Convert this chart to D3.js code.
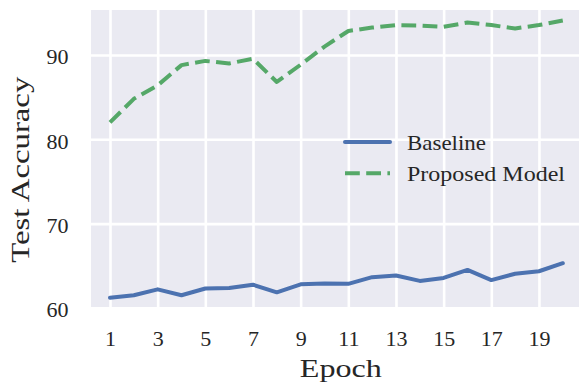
<!DOCTYPE html>
<html>
<head>
<meta charset="utf-8">
<script src="https://cdn.jsdelivr.net/npm/d3@7"></script>
<style>
  html, body { margin: 0; padding: 0; background: #ffffff; }
  svg { display: block; }
  text { font-family: "Liberation Serif", "Times New Roman", serif; fill: #262626; }
</style>
</head>
<body>
<svg id="chart" width="579" height="383"></svg>
<script>
const epochs = [1,2,3,4,5,6,7,8,9,10,11,12,13,14,15,16,17,18,19,20];
const baseline = [61.2,61.5,62.2,61.5,62.3,62.35,62.75,61.85,62.8,62.9,62.85,63.65,63.85,63.2,63.55,64.5,63.3,64.05,64.35,65.3];
const proposed = [82.0,84.8,86.4,88.8,89.3,89.0,89.55,86.8,88.85,91.0,92.85,93.25,93.55,93.5,93.35,93.85,93.55,93.15,93.55,94.1];
const xTicks = [1,3,5,7,9,11,13,15,17,19];
const yTicks = [60,70,80,90];
const seriesNames = ["Baseline", "Proposed Model"];
const seriesColors = ["#4c72b0", "#55a868"];

const svg = d3.select("#chart");
const plotLeft = 91, plotRight = 591, plotTop = 10, plotBottom = 307.9;

const x = d3.scaleLinear().domain([1, 20]).range([110, 562.8]);
const y = d3.scaleLinear().domain([60, 90]).range([plotBottom, 55]);

// background
svg.append("rect")
  .attr("x", plotLeft).attr("y", plotTop)
  .attr("width", plotRight - plotLeft).attr("height", plotBottom - plotTop)
  .attr("fill", "#eaeaf2");

// grid
const gx = svg.append("g").attr("transform", `translate(0,${plotBottom})`)
  .call(d3.axisBottom(x).tickValues(xTicks).tickSize(-(plotBottom - plotTop)).tickFormat(""));
gx.select(".domain").remove();
gx.selectAll("line").attr("stroke", "#ffffff").attr("stroke-width", 2.6);

const gy = svg.append("g").attr("transform", `translate(${plotLeft},0)`)
  .call(d3.axisLeft(y).tickValues(yTicks).tickSize(-(plotRight - plotLeft)).tickFormat(""));
gy.select(".domain").remove();
gy.selectAll("line").attr("stroke", "#ffffff").attr("stroke-width", 2.6);

// tick labels
const lx = svg.append("g").attr("transform", `translate(0,${plotBottom})`)
  .call(d3.axisBottom(x).tickValues(xTicks).tickSize(0).tickFormat(d3.format("d")));
lx.select(".domain").remove();
lx.selectAll("text").attr("y", 38.3).attr("dy", null)
  .style("font-size", "22px").attr("fill", "#262626")
  .style("font-family", "'Liberation Serif', serif");

const ly = svg.append("g").attr("transform", `translate(${plotLeft},0)`)
  .call(d3.axisLeft(y).tickValues(yTicks).tickSize(0).tickFormat(d3.format("d")));
ly.select(".domain").remove();
ly.selectAll("text").attr("x", -22.5).attr("dy", "0.4em")
  .style("font-size", "22px").attr("fill", "#262626")
  .style("font-family", "'Liberation Serif', serif");

// lines
const clip = svg.append("clipPath").attr("id", "clip")
  .append("rect").attr("x", plotLeft).attr("y", plotTop)
  .attr("width", plotRight - plotLeft).attr("height", plotBottom - plotTop);

const lineGen = d3.line().x((d, i) => x(epochs[i])).y(d => y(d));
svg.append("path").datum(baseline)
  .attr("d", lineGen).attr("fill", "none")
  .attr("stroke", seriesColors[0]).attr("stroke-width", 4)
  .attr("stroke-linecap", "round").attr("stroke-linejoin", "round")
  .attr("clip-path", "url(#clip)");
svg.append("path").datum(proposed)
  .attr("d", lineGen).attr("fill", "none")
  .attr("stroke", seriesColors[1]).attr("stroke-width", 4)
  .attr("stroke-dasharray", "14.8,6.4")
  .attr("stroke-linejoin", "round")
  .attr("clip-path", "url(#clip)");

// axis labels
svg.append("text").attr("x", 340.8).attr("y", 376.7)
  .attr("text-anchor", "middle").style("font-size", "25px")
  .attr("textLength", 82).attr("lengthAdjust", "spacingAndGlyphs")
  .text("Epoch");
svg.append("text")
  .attr("transform", "translate(29.3,169.7) rotate(-90)")
  .attr("text-anchor", "middle").style("font-size", "25px")
  .attr("textLength", 186).attr("lengthAdjust", "spacingAndGlyphs")
  .text("Test Accuracy");

// legend
const legend = svg.append("g");
const rowsY = [142, 173.3];
const textLens = [79, 158];
seriesNames.forEach((name, i) => {
  const l = legend.append("line")
    .attr("x1", 345).attr("x2", 390)
    .attr("y1", rowsY[i]).attr("y2", rowsY[i])
    .attr("stroke", seriesColors[i]).attr("stroke-width", 4);
  if (i === 1) l.attr("stroke-dasharray", "14.8,6.4");
  else l.attr("stroke-linecap", "round");
  legend.append("text").attr("x", 407).attr("y", rowsY[i] + 8)
    .style("font-size", "21.5px")
    .attr("textLength", textLens[i]).attr("lengthAdjust", "spacingAndGlyphs")
    .text(name);
});
</script>
</body>
</html>
